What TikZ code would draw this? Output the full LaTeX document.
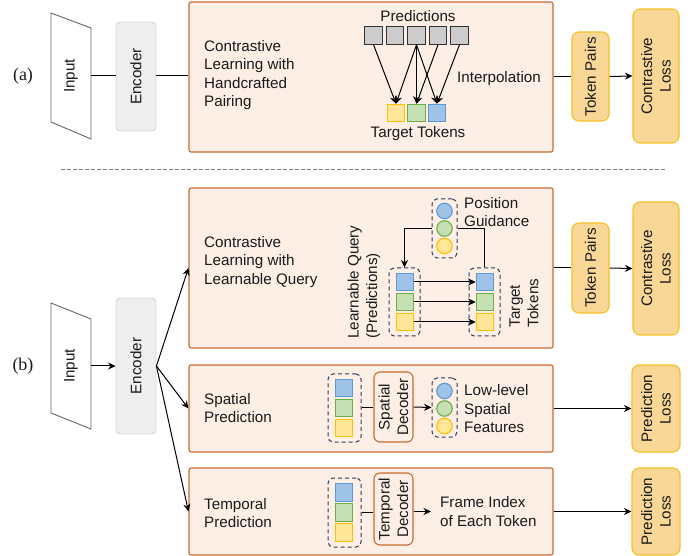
\documentclass[tikz,border=0pt]{standalone}
\usepackage{fontspec}
\setmainfont{Liberation Sans}
\newfontfamily\labelserif{Liberation Serif}
\usetikzlibrary{arrows.meta}
\definecolor{boxfill}{HTML}{FDEEE6}
\definecolor{boxborder}{HTML}{C9692E}
\definecolor{lossfill}{HTML}{F9D796}
\definecolor{lossborder}{HTML}{F5C026}
\definecolor{encfill}{HTML}{EEEEEE}
\definecolor{encborder}{HTML}{D9D9D9}
\definecolor{inborder}{HTML}{666666}
\definecolor{grayfill}{HTML}{CCCCCC}
\definecolor{grayborder}{HTML}{333333}
\definecolor{bluefill}{HTML}{9FC3E7}
\definecolor{blueborder}{HTML}{5B9BD5}
\definecolor{greenfill}{HTML}{C5E0B4}
\definecolor{greenborder}{HTML}{70AD47}
\definecolor{yellowfill}{HTML}{FFE699}
\definecolor{yellowborder}{HTML}{FFC000}
\definecolor{dashcol}{HTML}{2E3D57}
\definecolor{sepcol}{HTML}{808080}
\definecolor{txtcol}{HTML}{1A1A1A}
\begin{document}
\begin{tikzpicture}[x=1pt,y=-1pt,
  font=\fontsize{15.2}{18.5}\selectfont, text=txtcol,
  bigbox/.style={draw=boxborder, fill=boxfill, rounded corners=2pt, line width=1.1pt, inner sep=0pt},
  decbox/.style={draw=boxborder, fill=boxfill, rounded corners=6pt, line width=1.1pt, inner sep=0pt},
  lossbox/.style={draw=lossborder, fill=lossfill, rounded corners=7pt, line width=1.1pt, inner sep=0pt},
  encbox/.style={draw=encborder, fill=encfill, rounded corners=4pt, line width=0.9pt, inner sep=0pt},
  inshape/.style={draw=inborder, fill=white, line width=0.9pt},
  txt/.style={inner sep=0pt},
  vtxt/.style={inner sep=0pt, rotate=90},
  tok/.style={minimum size=17.5pt, inner sep=0pt, line width=1.1pt},
  graytok/.style={tok, fill=grayfill, draw=grayborder, line width=0.9pt},
  bluetok/.style={tok, fill=bluefill, draw=blueborder},
  greentok/.style={tok, fill=greenfill, draw=greenborder},
  yellowtok/.style={tok, fill=yellowfill, draw=yellowborder},
  ball/.style={circle, minimum size=15.5pt, inner sep=0pt, line width=1.1pt},
  blueball/.style={ball, fill=bluefill, draw=blueborder},
  greenball/.style={ball, fill=greenfill, draw=greenborder},
  yellowball/.style={ball, fill=yellowfill, draw=yellowborder},
  dashbox/.style={draw=dashcol, dashed, dash pattern=on 4pt off 3pt, rounded corners=5pt, line width=1pt, inner sep=0pt},
  conn/.style={draw=black, line width=1pt},
  arr/.style={conn, -{Stealth[length=7.5pt, width=7pt]}}
]
\useasboundingbox (0,0) rectangle (697,556);

% ---------------- (a) ----------------
\node[txt, font=\labelserif\fontsize{18}{20}\selectfont] (la) at (23,76) {(a)};
\draw[inshape] (51,13) -- (91,28) -- (91,139) -- (51,122) -- cycle;
\node[vtxt] (inA) at (71,76) {Input};
\coordinate (inAr) at (91,76);
\node[encbox, minimum width=40pt, minimum height=109pt] (encA) at (136,76.5) {};
\node[vtxt] at (encA) {Encoder};
\node[bigbox, minimum width=364pt, minimum height=150pt] (ca) at (371,77) {};
\node[txt, anchor=west, align=left] at (204,75) {Contrastive\\Learning with\\Handcrafted\\Pairing};
\node[txt] (predlab) at (418,16) {Predictions};
\node[graytok] (p1) at (373.5,35.5) {};
\node[graytok] (p2) at (395,35.5) {};
\node[graytok] (p3) at (416.5,35.5) {};
\node[graytok] (p4) at (438,35.5) {};
\node[graytok] (p5) at (459.5,35.5) {};
\node[yellowtok] (t1) at (396,113) {};
\node[greentok] (t2) at (416.5,113) {};
\node[bluetok] (t3) at (437,113) {};
\node[txt] (ttlab) at (418,134) {Target Tokens};
\node[txt] (interp) at (499,79) {Interpolation};
\draw[arr] (p1.south) -- (t1.north);
\draw[arr] (p3.south) -- (t1.north);
\draw[arr] (p3.south) -- (t2.north);
\draw[arr] (p3.south) -- (t3.north);
\draw[arr] (p4.south) -- (t2.north);
\draw[arr] (p5.south) -- (t3.north);
\node[lossbox, minimum width=37pt, minimum height=89pt] (tpA) at (590.5,76.5) {};
\node[vtxt] at (tpA) {Token Pairs};
\node[lossbox, minimum width=46pt, minimum height=134pt] (clA) at (656,76) {};
\node[vtxt, align=center] at (clA) {Contrastive\\Loss};
\draw[conn] (inAr) -- (inAr -| encA.west);
\draw[conn] (encA.east |- inAr) -- (ca.west |- inAr);
\draw[conn] (ca.east |- tpA.west) -- (tpA.west);
\draw[arr] (tpA.east) -- (clA.west);

% separator
\coordinate (sepL) at (61,169);
\coordinate (sepR) at (665,169);
\draw[draw=sepcol, line width=0.8pt, dash pattern=on 3.5pt off 2.5pt] (sepL) -- (sepR);

% ---------------- (b) ----------------
\node[txt, font=\labelserif\fontsize{18}{20}\selectfont] (lb) at (23,366) {(b)};
\draw[inshape] (51,303) -- (91,319) -- (91,429) -- (51,413) -- cycle;
\node[vtxt] (inB) at (71,366) {Input};
\coordinate (inBr) at (91,366);
\node[encbox, minimum width=40pt, minimum height=136pt] (encB) at (136,366) {};
\node[vtxt] at (encB) {Encoder};
\draw[arr] (inBr) -- (encB.west);

% contrastive (b)
\node[bigbox, minimum width=364pt, minimum height=160pt] (cb) at (371,268) {};
\node[txt, anchor=west, align=left] at (204,262) {Contrastive\\Learning with\\Learnable Query};
\node[dashbox, minimum width=25pt, minimum height=59pt] (pg) at (444.5,228.5) {};
\node[blueball] (g1) at (444.5,211) {};
\node[greenball] (g2) at (444.5,228.5) {};
\node[yellowball] (g3) at (444.5,246) {};
\node[txt, anchor=west, align=left] (pglab) at (464,212) {Position\\Guidance};
\node[dashbox, minimum width=31pt, minimum height=68pt] (lq) at (404.5,302) {};
\node[bluetok] (q1) at (405,282) {};
\node[greentok] (q2) at (405,302) {};
\node[yellowtok] (q3) at (405,322) {};
\node[dashbox, minimum width=31pt, minimum height=68pt] (tt) at (484.5,302) {};
\node[bluetok] (r1) at (485,282) {};
\node[greentok] (r2) at (485,302) {};
\node[yellowtok] (r3) at (485,322) {};
\draw[arr] (q1.east) -- (r1.west);
\draw[arr] (q2.east) -- (r2.west);
\draw[arr] (q3.east) -- (r3.west);
\draw[arr] (pg.west) -| (lq.north);
\draw[conn] (pg.east) -| (tt.north);
\node[vtxt, align=left] (lqlab) at (364,282) {Learnable Query\\(Predictions)};
\node[vtxt, align=left] (ttlabb) at (524,303) {Target\\Tokens};
\node[lossbox, minimum width=37pt, minimum height=90pt] (tpB) at (590.5,268) {};
\node[vtxt] at (tpB) {Token Pairs};
\node[lossbox, minimum width=46pt, minimum height=133pt] (clB) at (656,268.5) {};
\node[vtxt, align=center] at (clB) {Contrastive\\Loss};
\draw[conn] (cb.east) -- (tpB.west);
\draw[arr] (tpB.east) -- (clB.west);

% spatial
\node[bigbox, minimum width=364pt, minimum height=87pt] (sp) at (371,408.5) {};
\node[txt, anchor=west, align=left] at (204,408) {Spatial\\Prediction};
\node[dashbox, minimum width=33pt, minimum height=68pt] (sq) at (344.5,408) {};
\node[bluetok] (s1) at (344,388) {};
\node[greentok] (s2) at (344,408) {};
\node[yellowtok] (s3) at (344,428) {};
\node[decbox, minimum width=39pt, minimum height=70pt] (sdec) at (393.5,407) {};
\node[vtxt, align=center] at (sdec) {Spatial\\Decoder};
\node[dashbox, minimum width=25pt, minimum height=59pt] (fb) at (444.5,407.5) {};
\node[blueball] (f1) at (444.5,391) {};
\node[greenball] (f2) at (444.5,408.5) {};
\node[yellowball] (f3) at (444.5,426) {};
\node[txt, anchor=west, align=left] (flab) at (464,409) {Low-level\\Spatial\\Features};
\draw[conn] (sq.east) -- (sq.east -| sdec.west);
\draw[arr] (sdec.east) -- (fb.west);
\node[lossbox, minimum width=48pt, minimum height=87pt] (plA) at (656,408.5) {};
\node[vtxt, align=center] at (plA) {Prediction\\Loss};
\draw[arr] (sp.east) -- (plA.west);

% temporal
\node[bigbox, minimum width=364pt, minimum height=87pt] (tp) at (371,511.5) {};
\node[txt, anchor=west, align=left] at (204,513) {Temporal\\Prediction};
\node[dashbox, minimum width=33pt, minimum height=69pt] (tq) at (344.5,512.5) {};
\node[bluetok] (u1) at (344,492.5) {};
\node[greentok] (u2) at (344,512.5) {};
\node[yellowtok] (u3) at (344,532.5) {};
\node[decbox, minimum width=39pt, minimum height=72pt] (tdec) at (393.5,509) {};
\node[vtxt, align=center] at (tdec) {Temporal\\Decoder};
\node[txt, inner xsep=9pt, anchor=west, align=left] (fi) at (431,511.5) {Frame Index\\of Each Token};
\draw[conn] (tq.east) -- (tq.east -| tdec.west);
\draw[arr] (tdec.east |- fi.west) -- (fi.west);
\node[lossbox, minimum width=48pt, minimum height=87pt] (plB) at (656,511.5) {};
\node[vtxt, align=center] at (plB) {Prediction\\Loss};
\draw[arr] (tp.east) -- (plB.west);

% encoder fan-out
\draw[arr] (encB.east) -- (cb.west);
\draw[arr] (encB.east) -- (sp.west);
\draw[arr] (encB.east) -- (tp.west);
\end{tikzpicture}
\end{document}
